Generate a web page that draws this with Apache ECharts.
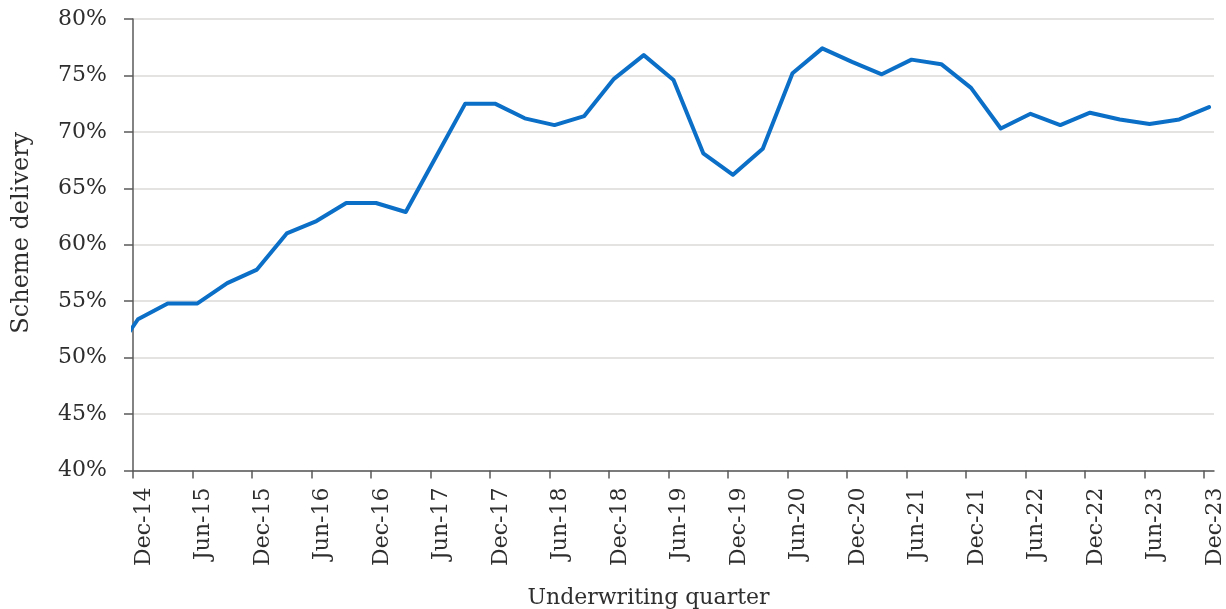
<!DOCTYPE html>
<html>
<head>
<meta charset="utf-8">
<script src="https://cdn.jsdelivr.net/npm/echarts@6/dist/echarts.min.js"></script>
<style>
html,body{margin:0;padding:0;background:#fff;}
#chart{width:1226px;height:609px;}
</style>
</head>
<body>
<div id="chart"></div>
<script>
// Quarter-end labels (first one lies just before the axis start and is clipped)
const quarters = ['Sep-14','Dec-14','Mar-15','Jun-15','Sep-15','Dec-15','Mar-16','Jun-16','Sep-16','Dec-16',
  'Mar-17','Jun-17','Sep-17','Dec-17','Mar-18','Jun-18','Sep-18','Dec-18','Mar-19','Jun-19','Sep-19','Dec-19',
  'Mar-20','Jun-20','Sep-20','Dec-20','Mar-21','Jun-21','Sep-21','Dec-21','Mar-22','Jun-22','Sep-22','Dec-22',
  'Mar-23','Jun-23','Sep-23','Dec-23'];
// Scheme delivery, %
const delivery = [49.5,53.4,54.8,54.8,56.6,57.8,61.0,62.1,63.7,63.7,
  62.9,67.7,72.5,72.5,71.2,70.6,71.4,74.7,76.8,74.6,68.1,66.2,
  68.5,75.2,77.4,76.2,75.1,76.4,76.0,73.9,70.3,71.6,70.6,71.7,
  71.1,70.7,71.1,72.2];
// x-axis tick labels (every half year)
const xTickLabels = ['Dec-14','Jun-15','Dec-15','Jun-16','Dec-16','Jun-17','Dec-17','Jun-18','Dec-18',
  'Jun-19','Dec-19','Jun-20','Dec-20','Jun-21','Dec-21','Jun-22','Dec-22','Jun-23','Dec-23'];
// y-axis tick values
const yTicks = [40,45,50,55,60,65,70,75,80];

const monthIdx = {Jan:1,Feb:2,Mar:3,Apr:4,May:5,Jun:6,Jul:7,Aug:8,Sep:9,Oct:10,Nov:11,Dec:12};
// months since start of Dec-2014
function monthsFrom(label){
  const [m, y] = label.split('-');
  return (2000 + Number(y) - 2014) * 12 + (monthIdx[m] - 12);
}
// data points sit in the middle of their month
const seriesData = quarters.map((q, i) => [monthsFrom(q) + 0.5, delivery[i]]);
const tickPos = xTickLabels.map(monthsFrom);
const tickLabelMap = {};
xTickLabels.forEach(l => { tickLabelMap[monthsFrom(l)] = l; });

const FONT = 'DejaVu Serif';
const TXT = '#2e2e2e';

const chart = echarts.init(document.getElementById('chart'), null, {renderer: 'canvas'});
chart.setOption({
  animation: false,
  backgroundColor: '#ffffff',
  grid: {left: 133, right: 12, top: 19, bottom: 138.5, containLabel: false, outerBoundsMode: 'none'},
  xAxis: {
    type: 'value',
    min: tickPos[0],
    max: tickPos[tickPos.length - 1] + 1,
    name: 'Underwriting quarter',
    nameLocation: 'middle',
    nameGap: 117,
    nameTextStyle: {fontFamily: FONT, fontSize: 22, color: TXT, padding: [0, 50, 0, 0]},
    axisLine: {show: true, lineStyle: {color: '#5a5a5a', width: 1.5}},
    axisTick: {show: true, length: 8, lineStyle: {color: '#5a5a5a', width: 1.5}, customValues: tickPos},
    axisLabel: {
      show: true, rotate: 90, margin: 17, verticalAlign: 'top',
      fontFamily: FONT, fontSize: 22, color: TXT,
      customValues: tickPos,
      formatter: v => tickLabelMap[Math.round(v)] || ''
    },
    splitLine: {show: false}
  },
  yAxis: {
    type: 'value',
    min: yTicks[0],
    max: yTicks[yTicks.length - 1],
    interval: 5,
    name: 'Scheme delivery',
    nameLocation: 'middle',
    nameGap: 99,
    nameTextStyle: {fontFamily: FONT, fontSize: 24, color: TXT, padding: [0, 0, 0, 24]},
    axisLine: {show: true, lineStyle: {color: '#5a5a5a', width: 1.5}},
    axisTick: {show: true, length: 9, lineStyle: {color: '#5a5a5a', width: 1.5}},
    axisLabel: {margin: 26, fontFamily: FONT, fontSize: 22, color: TXT, formatter: '{value}%'},
    splitLine: {show: true, lineStyle: {color: '#dcd9d9', width: 1.5}}
  },
  series: [{
    type: 'line',
    data: seriesData,
    showSymbol: false,
    symbol: 'none',
    clip: true,
    lineStyle: {color: '#0b6fc7', width: 4, join: 'round', cap: 'round'},
    z: 5
  }]
});
</script>
</body>
</html>
